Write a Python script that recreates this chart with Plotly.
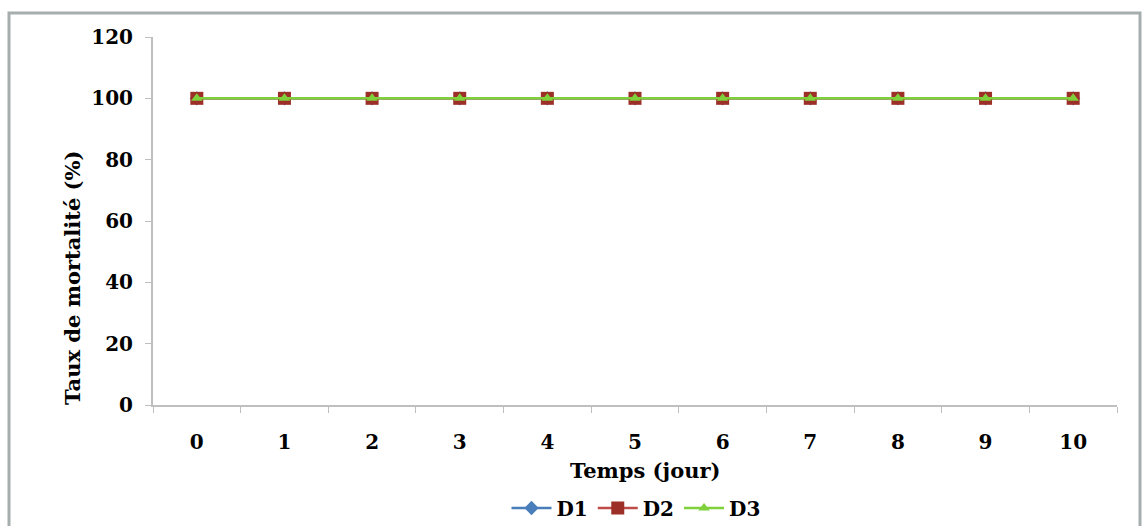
import plotly.graph_objects as go

days = [str(d) for d in range(11)]
d1 = [100, 100, 100, 100, 100, 100, 100, 100, 100, 100, 100]
d2 = [100, 100, 100, 100, 100, 100, 100, 100, 100, 100, 100]
d3 = [100, 100, 100, 100, 100, 100, 100, 100, 100, 100, 100]
y_ticks = [0, 20, 40, 60, 80, 100, 120]

W, H = 1143, 526
L, R, T, B = 153, 1143 - 1117, 37, 526 - 405
pw, ph = W - L - R, H - T - B

def px(x):
    return (x - L) / pw

def py(y):
    return (H - B - y) / ph

serif = "DejaVu Serif, Liberation Serif, serif"

fig = go.Figure()
fig.add_trace(go.Scatter(x=days, y=d1, name="D1", mode="lines+markers",
                         line=dict(color="#4a7ebb", width=2.5),
                         marker=dict(symbol="diamond", size=11, color="#4a7ebb")))
fig.add_trace(go.Scatter(x=days, y=d2, name="D2", mode="lines+markers",
                         line=dict(color="#be4b48", width=2.5),
                         marker=dict(symbol="square", size=13, color="#9c2f27")))
fig.add_trace(go.Scatter(x=days, y=d3, name="D3", mode="lines+markers",
                         line=dict(color="#7fd13b", width=2.5),
                         marker=dict(symbol="triangle-up", size=10, color="#7fd13b")))

fig.update_layout(
    width=W, height=H,
    margin=dict(l=L, r=R, t=T, b=B, autoexpand=False),
    paper_bgcolor="white", plot_bgcolor="white",
    font=dict(family=serif, size=18, color="black"),
    showlegend=True,
    legend=dict(orientation="h", x=px(636), xanchor="center", y=py(508), yanchor="middle",
                font=dict(family=serif, size=20, color="black", weight="bold"),
                itemwidth=40, tracegroupgap=0),
    xaxis=dict(type="category", tickson="boundaries", ticks="outside", ticklen=6,
               tickcolor="#bfbfbf", showline=True, linecolor="#bfbfbf", linewidth=2,
               showgrid=False, zeroline=False, ticklabelstandoff=18,
               tickfont=dict(family=serif, size=20, color="black", weight="bold"),
               range=[-0.5, 10.5]),
    yaxis=dict(range=[0, 120], tickvals=y_ticks, ticks="outside", ticklen=6,
               tickcolor="#bfbfbf", showline=True, linecolor="#bfbfbf", linewidth=2,
               showgrid=False, zeroline=False, ticklabelstandoff=8,
               tickfont=dict(family=serif, size=20, color="black", weight="bold")),
    annotations=[
        dict(text="<b>Temps (jour)</b>", xref="paper", yref="paper", x=px(645), y=py(470),
             xanchor="center", yanchor="middle", showarrow=False,
             font=dict(family=serif, size=21, color="black")),
        dict(text="<b>Taux de mortalité (%)</b>", xref="paper", yref="paper", x=px(72), y=py(278),
             xanchor="center", yanchor="middle", textangle=-90, showarrow=False,
             font=dict(family=serif, size=21, color="black")),
    ],
    shapes=[
        dict(type="rect", xref="paper", yref="paper", x0=px(9), x1=px(1140), y0=py(530), y1=py(13),
             line=dict(color="#a6adad", width=3), fillcolor="rgba(0,0,0,0)", layer="below"),
    ],
)

fig.write_html("out.html")
